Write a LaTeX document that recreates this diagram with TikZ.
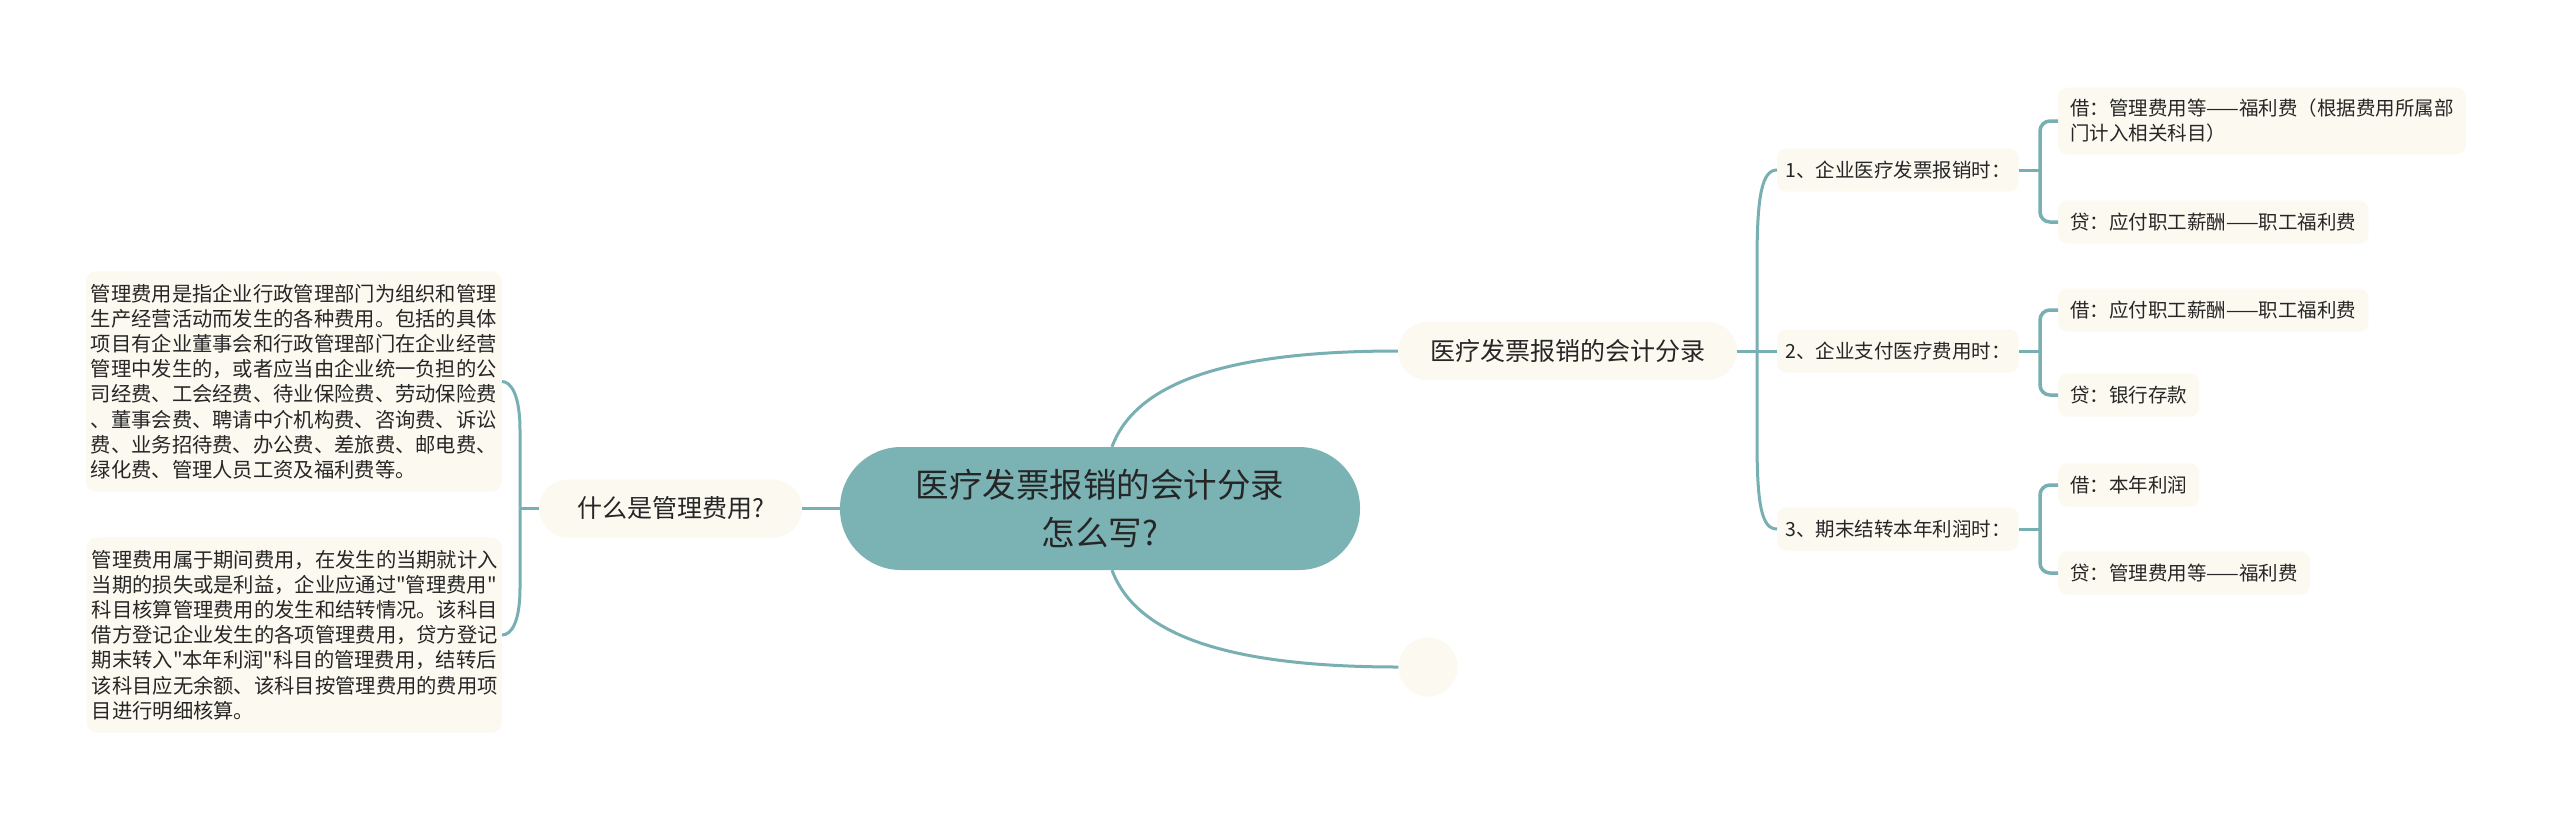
\documentclass[tikz,border=0pt]{standalone}
\usepackage{fontspec}
\setmainfont{Noto Sans CJK SC}[Ligatures=TeXOff]
\usetikzlibrary{calc}
\definecolor{linec}{RGB}{120,175,178}
\definecolor{rootfill}{RGB}{123,179,181}
\definecolor{boxfill}{RGB}{252,249,240}
\definecolor{textc}{RGB}{38,38,38}

\begin{document}
\begin{tikzpicture}[x=1pt,y=-1pt,
    every node/.style={text=textc,inner sep=0pt},
    link/.style={draw=linec,line width=3pt},
    root/.style={fill=rootfill,rounded corners=61pt,minimum width=520pt,
      minimum height=123pt,align=center,font=\fontsize{33.5}{48}\selectfont},
    topic/.style={fill=boxfill,rounded corners=29pt,minimum height=58pt,
      font=\fontsize{25}{30}\selectfont},
    sub/.style={fill=boxfill,rounded corners=9pt,minimum height=43pt,
      inner xsep=8pt,font=\fontsize{19.5}{25}\selectfont},
    leaf/.style={fill=boxfill,rounded corners=9pt,minimum height=43pt,
      inner xsep=12pt,inner ysep=11.5pt,align=left,font=\fontsize{19.5}{25}\selectfont},
    note/.style={fill=boxfill,rounded corners=10pt,inner xsep=5pt,
      inner ysep=12.5pt,align=left,font=\fontsize{20.3}{25.2}\selectfont}]
    \fill[white](0,0)rectangle(2560,820);
    \useasboundingbox(0,0)rectangle(2560,820);
    \node[root](root)at(1100,508.5){医疗发票报销的会计分录\\怎么写?};
    \node[topic,minimum width=263pt](what)at(670.5,508.5){什么是管理费用?};
    \node[topic,minimum width=339pt](entry)at(1567.5,351){医疗发票报销的会计分录};
    \node[circle,fill=boxfill,minimum size=59pt](blank)at(1428,667){};
    \node[note,anchor=east](def)at(502,381.5){管理费用是指企业行政管理部门为组织和管理\\%
      生产经营活动而发生的各种费用。包括的具体\\%
      项目有企业董事会和行政管理部门在企业经营\\%
      管理中发生的，或者应当由企业统一负担的公\\%
      司经费、工会经费、待业保险费、劳动保险费\\%
      、董事会费、聘请中介机构费、咨询费、诉讼\\%
      费、业务招待费、办公费、差旅费、邮电费、\\%
      绿化费、管理人员工资及福利费等。};
    \node[note,anchor=east,text width=405pt](acct)at(502,635){管理费用属于期间费用，在发生的当期就计入\\%
      当期的损失或是利益，企业应通过"管理费用"\\%
      科目核算管理费用的发生和结转情况。该科目\\%
      借方登记企业发生的各项管理费用，贷方登记\\%
      期末转入"本年利润"科目的管理费用，结转后\\%
      该科目应无余额、该科目按管理费用的费用项\\%
      目进行明细核算。};
    \node[sub,anchor=west](s1)at(1777,170){1、企业医疗发票报销时：};
    \node[sub,anchor=west](s2)at(1777,351){2、企业支付医疗费用时：};
    \node[sub,anchor=west](s3)at(1777,529){3、期末结转本年利润时：};
    \node[leaf,anchor=west](g11)at(2058,121){借：管理费用等——福利费（根据费用所属部\\%
      门计入相关科目）};
    \node[leaf,anchor=west](g12)at(2058,222){贷：应付职工薪酬——职工福利费};
    \node[leaf,anchor=west](g21)at(2058,310){借：应付职工薪酬——职工福利费};
    \node[leaf,anchor=west](g22)at(2058,395){贷：银行存款};
    \node[leaf,anchor=west](g31)at(2058,485){借：本年利润};
    \node[leaf,anchor=west](g32)at(2058,573){贷：管理费用等——福利费};
    \coordinate(lb)at(520,508.5);
    \coordinate(rb)at(1757,351);
    \coordinate(b1)at(2040,170);
    \coordinate(b2)at(2040,351);
    \coordinate(b3)at(2040,529);
    \draw[link](what)--(root);
    \draw[link](what.west)--(lb);
    \draw[link](lb)--(520,430)..controls(520,395)and(511,381.5)..(def.east);
    \draw[link](lb)--(520,588)..controls(520,623)and(511,635)..(acct.east);
    \draw[link]([xshift=12pt]root.north)..controls(1135,385)and(1220,351)..(entry.west);
    \draw[link]([xshift=12pt]root.south)..controls(1135,632)and(1220,667)..(blank.west);
    \draw[link](entry)--(s2);
    \draw[link](rb)--(1757,262)..controls(1757,195)and(1762,170)..(s1.west);
    \draw[link](rb)--(1757,440)..controls(1757,507)and(1762,529)..(s3.west);
    \foreach \i in {1,2,3}
      {\draw[link](s\i.east)--(b\i);
       \draw[link,line width=3.5pt,rounded corners=10pt](g\i1.west)-|(b\i)|-(g\i2.west);}
  \end{tikzpicture}
\end{document}
